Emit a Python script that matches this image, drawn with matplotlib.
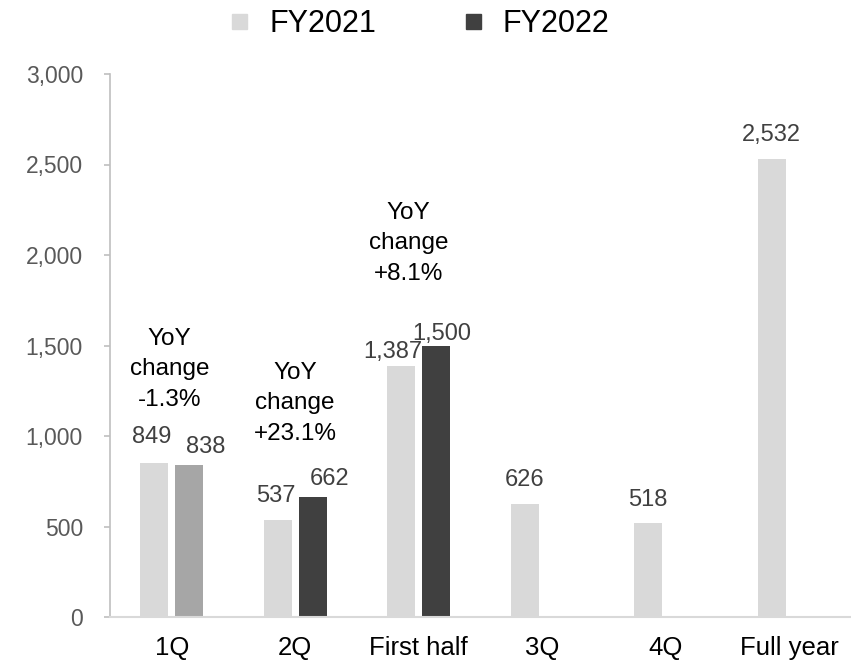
import matplotlib
matplotlib.use("Agg")
import matplotlib.pyplot as plt
from matplotlib.lines import Line2D
import numpy as np

plt.rcParams['font.family'] = ['Liberation Sans', 'DejaVu Sans']

categories = ["1Q", "2Q", "First half", "3Q", "4Q", "Full year"]
fy2021 = [849, 537, 1387, 626, 518, 2532]
fy2022 = [838, 662, 1500, None, None, None]
series_names = ["FY2021", "FY2022"]
yoy_labels = ["YoY\nchange\n-1.3%", "YoY\nchange\n+23.1%", "YoY\nchange\n+8.1%"]
yticks = [0, 500, 1000, 1500, 2000, 2500, 3000]

c21 = "#d9d9d9"
c22 = "#404040"
c22_first = "#a6a6a6"

W, H = 851, 663
fig = plt.figure(figsize=(W / 100, H / 100), dpi=100)
ax = fig.add_axes([110 / W, (H - 617) / H, (W - 110) / W, (617 - 74) / H])

x = np.arange(len(categories))
bw = 0.227
off = 0.142

ax.bar(x - off, fy2021, width=bw, color=c21, zorder=2)
x22 = [xi + off for xi, v in zip(x, fy2022) if v is not None]
v22 = [v for v in fy2022 if v is not None]
cols22 = [c22_first] + [c22] * (len(v22) - 1)
ax.bar(x22, v22, width=bw, color=cols22, zorder=2)

# data labels (offsets in points)
lab21_off = [(-2, 19), (-1, 17), (-6, 10), (0, 17), (0, 17), (0, 17)]
lab22_off = [(12, 13), (12, 13), (4, 8)]
for xi, v, o in zip(x, fy2021, lab21_off):
    ax.annotate(f"{v:,}", (xi - off, v), xytext=o, textcoords="offset points",
                ha="center", va="center", fontsize=17, color="#404040")
for xi, v, o in zip(x22, v22, lab22_off):
    ax.annotate(f"{v:,}", (xi, v), xytext=o, textcoords="offset points",
                ha="center", va="center", fontsize=17, color="#404040")

# YoY annotations
yoy_pos = [(-0.02, 1370), (1.0, 1182), (1.915, 2066)]
for (px, py), t in zip(yoy_pos, yoy_labels):
    ax.text(px, py, t, ha="center", va="center", fontsize=17.5, color="black",
            linespacing=1.5)

ax.set_xlim(-0.5, len(categories) - 0.5)
ax.set_ylim(0, 3000)
ax.set_yticks(yticks)
ax.set_yticklabels([f"{t:,}" for t in yticks])
ax.set_xticks(x)
ax.set_xticklabels(categories)

for s in ["top", "right"]:
    ax.spines[s].set_visible(False)
ax.spines["left"].set_color("#bfbfbf")
ax.spines["left"].set_linewidth(1.2)
ax.spines["bottom"].set_color("#d9d9d9")
ax.spines["bottom"].set_linewidth(1.5)
ax.tick_params(axis="y", length=4.5, width=1.2, color="#bfbfbf", pad=15,
               labelsize=16.5, labelcolor="#595959")
ax.tick_params(axis="x", length=0, pad=14, labelsize=18.5, labelcolor="#000000")

handles = [Line2D([], [], marker="s", linestyle="none", markersize=10.8,
                  markerfacecolor=c, markeredgecolor=c) for c in (c21, c22)]
fig.legend(handles, series_names, loc="center", bbox_to_anchor=(0.492, 1 - 24 / H),
           ncol=2, frameon=False, fontsize=22, handlelength=0.75,
           handletextpad=0.6, columnspacing=2.8, borderaxespad=0, borderpad=0)

fig.savefig("out.png", dpi=100)
